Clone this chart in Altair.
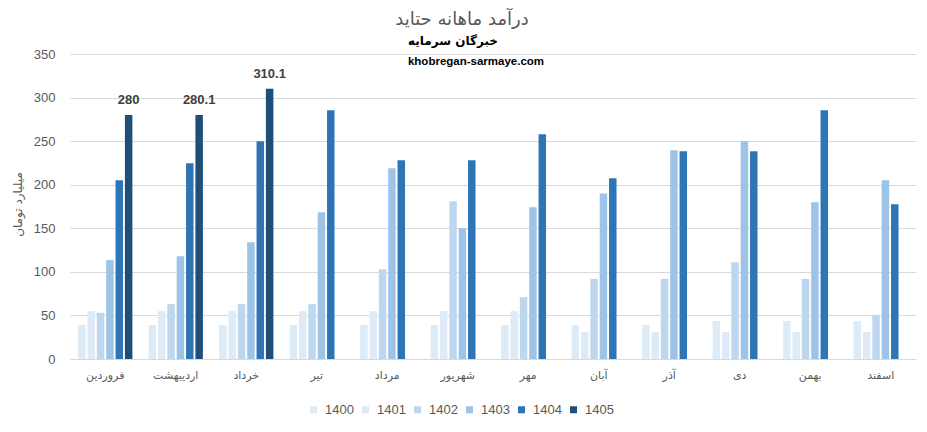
import altair as alt
import pandas as pd

months = ["فروردین", "اردیبهشت", "خرداد", "تیر", "مرداد", "شهریور",
          "مهر", "آبان", "آذر", "دی", "بهمن", "اسفند"]
years = ["1400", "1401", "1402", "1403", "1404", "1405"]
v1400 = [39, 39, 39, 39, 39, 39, 39, 39, 39, 43.5, 43.5, 43.5]
v1401 = [55, 55, 55, 55, 55, 55, 55, 31, 31, 31, 31, 31]
v1402 = [53, 63, 63, 63, 103, 181, 71, 92, 92, 111, 92, 50.5]
v1403 = [113.5, 118, 134, 168.5, 219, 150, 174, 190, 239.5, 250, 180, 205]
v1404 = [205, 224.5, 250, 285.5, 228, 228, 258, 207.5, 238.5, 238.5, 285.5, 177.5]
v1405 = [280, 280.1, 310.1, None, None, None, None, None, None, None, None, None]
colors = ["#DDEBF7", "#DEEBF7", "#BDD7EE", "#9DC3E6", "#2E75B6", "#1F4E79"]

series = [v1400, v1401, v1402, v1403, v1404, v1405]
rows = []
for y, vals in zip(years, series):
    for m, v in zip(months, vals):
        if v is not None:
            rows.append({"month": m, "year": y, "value": v})
df = pd.DataFrame(rows)
lab = df[df["year"] == "1405"].copy()
lab["label"] = lab["value"].map(lambda v: f"{v:g}")

grey = "#595959"
x_enc = alt.X("month:N", sort=months, title=None,
              scale=alt.Scale(paddingInner=0.23, paddingOuter=0.115),
              axis=alt.Axis(labelAngle=0, labelFont="DejaVu Sans", labelFontSize=11,
                            labelColor=grey, ticks=False, domainColor="#D9D9D9",
                            labelPadding=10))
y_enc = alt.Y("value:Q", title="میلیارد تومان",
              scale=alt.Scale(domain=[0, 350], nice=False),
              axis=alt.Axis(values=[0, 50, 100, 150, 200, 250, 300, 350],
                            labelFont="Liberation Sans", labelFontSize=13,
                            labelColor=grey, ticks=False, domain=False,
                            gridColor="#D9D9D9", labelPadding=15,
                            titleFont="DejaVu Sans", titleFontSize=12,
                            titleFontWeight="normal", titleColor=grey,
                            titleX=-46, titleY=150, titleAngle=270))

bars = alt.Chart(df).mark_bar().encode(
    x=x_enc,
    y=y_enc,
    xOffset=alt.XOffset("year:N", sort=years,
                        scale=alt.Scale(domain=years, paddingInner=0.2, paddingOuter=0)),
    color=alt.Color("year:N", sort=years,
                    scale=alt.Scale(domain=years, range=colors),
                    legend=alt.Legend(title=None, orient="none", direction="horizontal",
                                      legendX=237, legendY=349, symbolType="square",
                                      symbolSize=49, symbolStrokeWidth=0,
                                      labelFont="Liberation Sans", labelFontSize=13,
                                      labelColor=grey, labelOffset=5, columnPadding=5)),
)

labels = alt.Chart(lab).mark_text(
    font="Liberation Sans", fontSize=13, fontWeight="bold", color="#404040",
    baseline="bottom", dy=-8
).encode(
    x=alt.X("month:N", sort=months),
    xOffset=alt.XOffset("year:N", sort=years),
    y="value:Q",
    text="label:N",
)

one = pd.DataFrame({"t": [0]})
title1 = alt.Chart(one).mark_text(
    text="درآمد ماهانه حتاید", font="DejaVu Sans", fontSize=18, color=grey
).encode(x=alt.value(392), y=alt.value(-34))
title2 = alt.Chart(one).mark_text(
    text="خبرگان سرمایه", font="DejaVu Sans", fontSize=12, fontWeight="bold", color="#000000"
).encode(x=alt.value(383), y=alt.value(-13))
title3 = alt.Chart(one).mark_text(
    text="khobregan-sarmaye.com", font="Liberation Sans", fontSize=11.5, fontWeight="bold",
    color="#000000"
).encode(x=alt.value(406), y=alt.value(8))

chart = alt.layer(bars, labels, title1, title2, title3).properties(
    width=846, height=305,
    autosize=alt.AutoSizeParams(type="none"),
    padding={"left": 62, "top": 46, "right": 2, "bottom": 60},
).configure_view(stroke=None).configure_axis(grid=True).configure_axisX(grid=False)

chart.save("out.html", embed_options={"renderer": "svg", "actions": False})
